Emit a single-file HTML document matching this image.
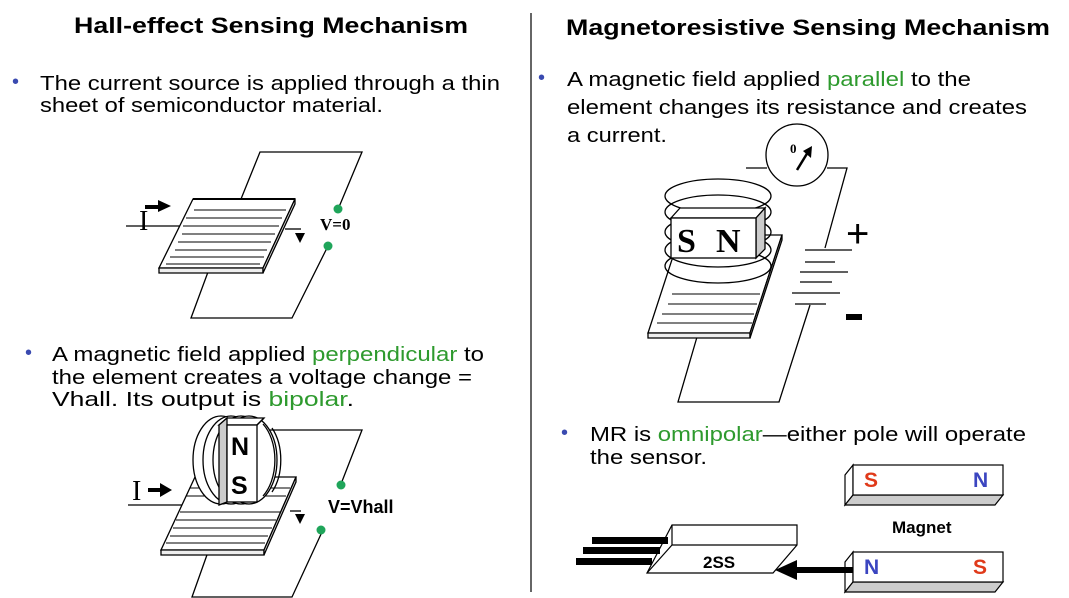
<!DOCTYPE html>
<html><head><meta charset="utf-8"><style>
html,body{margin:0;padding:0;background:#fff;width:1069px;height:598px;overflow:hidden}
</style></head><body>
<svg width="1069" height="598" viewBox="0 0 1069 598" xmlns="http://www.w3.org/2000/svg" font-family="Liberation Sans, Arial, sans-serif">
<rect width="1069" height="598" fill="#fff"/>
<line x1="531" y1="13" x2="531" y2="592" stroke="#000" stroke-width="1.2"/>
<text x="74" y="33" font-size="22" font-weight="bold" textLength="394" lengthAdjust="spacingAndGlyphs">Hall-effect Sensing Mechanism</text>
<text x="566" y="35" font-size="22" font-weight="bold" textLength="484" lengthAdjust="spacingAndGlyphs">Magnetoresistive Sensing Mechanism</text>
<g font-size="20.5" fill="#000">
<text x="12" y="88" fill="#3a4ab0" font-size="20">•</text>
<text x="40" y="90" textLength="460" lengthAdjust="spacingAndGlyphs">The current source is applied through a thin</text>
<text x="40" y="112" textLength="343" lengthAdjust="spacingAndGlyphs">sheet of semiconductor material.</text>
<text x="25" y="359" fill="#3a4ab0" font-size="20">•</text>
<text x="52" y="361" textLength="432" lengthAdjust="spacingAndGlyphs">A magnetic field applied <tspan fill="#2e9a2e">perpendicular</tspan> to</text>
<text x="52" y="384" textLength="420" lengthAdjust="spacingAndGlyphs">the element creates a voltage change =</text>
<text x="52" y="406" textLength="302" lengthAdjust="spacingAndGlyphs">Vhall. Its output is <tspan fill="#2e9a2e">bipolar</tspan>.</text>
<text x="538" y="84" fill="#3a4ab0" font-size="20">•</text>
<text x="567" y="86" textLength="404" lengthAdjust="spacingAndGlyphs">A magnetic field applied <tspan fill="#2e9a2e">parallel</tspan> to the</text>
<text x="567" y="114" textLength="460" lengthAdjust="spacingAndGlyphs">element changes its resistance and creates</text>
<text x="567" y="142" textLength="100" lengthAdjust="spacingAndGlyphs">a current.</text>
<text x="561" y="439" fill="#3a4ab0" font-size="20">•</text>
<text x="590" y="441" textLength="436" lengthAdjust="spacingAndGlyphs">MR is <tspan fill="#2e9a2e">omnipolar</tspan>—either pole will operate</text>
<text x="590" y="464" textLength="117" lengthAdjust="spacingAndGlyphs">the sensor.</text>
</g>

<!-- Diagram 1 -->
<g stroke="#000" stroke-width="1.3" fill="none">
<polyline points="241,199 260,152 362,152 339,207"/>
<polyline points="208,272 191,318 292,318 327,248"/>
<line x1="126" y1="226" x2="185" y2="226"/>
<line x1="285" y1="229" x2="301" y2="229"/>
<polygon points="193,199 295,199 263,268 159,268" fill="#fff"/>
<polygon points="159,268 263,268 263,273 159,273" fill="#eee"/>
<polygon points="295,199 295,204 263,273 263,268" fill="#ddd"/>
<line x1="193" y1="199" x2="295" y2="199" stroke-width="2"/>
<g stroke-width="1">
<line x1="194" y1="210" x2="286" y2="210"/><line x1="186" y1="218" x2="282" y2="218"/>
<line x1="183" y1="226" x2="279" y2="226"/><line x1="182" y1="234" x2="275" y2="234"/>
<line x1="178" y1="242" x2="271" y2="242"/><line x1="175" y1="250" x2="267" y2="250"/>
<line x1="170" y1="257" x2="264" y2="257"/><line x1="166" y1="264" x2="260" y2="264"/>
</g>
</g>
<text x="139" y="230" font-family="Liberation Serif, serif" font-size="28">I</text>
<polygon points="145,205 158,205 158,200 171,206 158,212 158,209 145,209" fill="#000"/>
<polygon points="295,233 305,233 300,243" fill="#000"/>
<circle cx="338" cy="209" r="4.5" fill="#1fa55a"/>
<circle cx="328" cy="246" r="4.5" fill="#1fa55a"/>
<text x="320" y="230" font-family="Liberation Serif, serif" font-size="17" font-weight="bold">V=0</text>

<!-- Diagram 2 -->
<g stroke="#000" stroke-width="1.3" fill="none">
<polyline points="268,430 362,430 341,484"/>
<polyline points="208,552 192,597 292,597 322,532"/>
<line x1="128" y1="505" x2="185" y2="505"/>
<line x1="290" y1="511" x2="301" y2="511"/>
<polygon points="195,477 296,477 264,550 161,550" fill="#fff"/>
<polygon points="161,550 264,550 264,555 161,555" fill="#eee"/>
<polygon points="296,477 296,482 264,555 264,550" fill="#ddd"/>
<g stroke-width="1">
<line x1="190" y1="488" x2="290" y2="488"/><line x1="186" y1="496" x2="286" y2="496"/>
<line x1="180" y1="512" x2="280" y2="512"/><line x1="176" y1="520" x2="276" y2="520"/>
<line x1="173" y1="528" x2="272" y2="528"/><line x1="170" y1="536" x2="268" y2="536"/>
<line x1="166" y1="543" x2="265" y2="543"/>
</g>
<ellipse cx="221" cy="460" rx="28" ry="44" fill="#fff"/>
<ellipse cx="231" cy="460" rx="28" ry="44" fill="#fff"/>
<ellipse cx="241" cy="460" rx="28" ry="44" fill="#fff"/>
<ellipse cx="249" cy="460" rx="28" ry="44" fill="#fff"/>
<polygon points="219,425 227,418 264,418 257,425" fill="#fff"/>
<polygon points="219,425 227,418 227,502 219,505" fill="#ccc"/>
<rect x="227" y="425" width="30" height="77" fill="#fff"/>
<path d="M257,425 L264,418"/>
<path d="M263,424 A28,44 0 0 1 263,496"/>
<path d="M272,428 A28,44 0 0 1 272,492"/>
</g>
<text x="231" y="455" font-size="25" font-weight="bold">N</text>
<text x="231" y="494" font-size="25" font-weight="bold">S</text>
<text x="132" y="500" font-family="Liberation Serif, serif" font-size="28">I</text>
<polygon points="148,488 160,488 160,483 172,490 160,497 160,492 148,492" fill="#000"/>
<polygon points="295,514 305,514 300,524" fill="#000"/>
<circle cx="341" cy="485" r="4.5" fill="#1fa55a"/>
<circle cx="321" cy="530" r="4.5" fill="#1fa55a"/>
<text x="328" y="513" font-size="18" font-weight="bold">V=Vhall</text>

<!-- Diagram 3 -->
<g stroke="#000" stroke-width="1.3" fill="none">
<polyline points="746,168 767,168"/>
<polyline points="827,168 847,168 825,248"/>
<polyline points="810,305 779,402 678,402 697,337"/>
<polygon points="680,235 782,235 750,333 648,333" fill="#fff"/>
<polygon points="648,333 750,333 750,338 648,338" fill="#eee"/>
<polygon points="782,235 782,240 750,338 750,333" fill="#ddd"/>
<g stroke-width="1">
<line x1="672" y1="294" x2="760" y2="294"/><line x1="668" y1="304" x2="757" y2="304"/>
<line x1="662" y1="314" x2="754" y2="314"/><line x1="657" y1="323" x2="752" y2="323"/>
</g>
<ellipse cx="718" cy="196" rx="53" ry="17"/>
<ellipse cx="718" cy="212" rx="53" ry="17"/>
<ellipse cx="718" cy="232" rx="53" ry="17"/>
<ellipse cx="718" cy="250" rx="53" ry="17"/>
<ellipse cx="718" cy="266" rx="53" ry="17"/>
<polygon points="671,218 680,208 765,208 756,218" fill="#fff"/>
<polygon points="756,218 765,208 765,249 756,258" fill="#ccc"/>
<rect x="671" y="218" width="85" height="40" fill="#fff"/>
<circle cx="797" cy="155" r="31" fill="#fff"/>
<g stroke-width="1.2">
<line x1="805" y1="250" x2="852" y2="250"/><line x1="805" y1="262" x2="835" y2="262"/>
<line x1="800" y1="272" x2="848" y2="272"/><line x1="800" y1="282" x2="832" y2="282"/>
<line x1="792" y1="293" x2="840" y2="293"/><line x1="795" y1="304" x2="826" y2="304"/>
</g>
</g>
<line x1="797" y1="170" x2="808" y2="152" stroke="#000" stroke-width="2.5"/>
<polygon points="803,151 812,146 811,158" fill="#000"/>
<text x="790" y="153" font-family="Liberation Serif, serif" font-size="13" font-weight="bold">0</text>
<text x="677" y="252" font-family="Liberation Serif, serif" font-size="34" font-weight="bold">S</text>
<text x="716" y="252" font-family="Liberation Serif, serif" font-size="34" font-weight="bold">N</text>
<text x="846" y="247" font-size="40">+</text>
<rect x="846" y="314" width="16" height="6" fill="#000"/>

<!-- Diagram 4 -->
<g stroke="#000" stroke-width="1.2">
<polygon points="853,465 845,475 845,505 853,495" fill="#fff"/>
<polygon points="853,495 1003,495 995,505 845,505" fill="#ccc"/>
<rect x="853" y="465" width="150" height="30" fill="#fff"/>
<polygon points="853,552 845,562 845,592 853,582" fill="#fff"/>
<polygon points="853,582 1003,582 995,592 845,592" fill="#ccc"/>
<rect x="853" y="552" width="150" height="30" fill="#fff"/>
<polygon points="672,525 797,525 797,545 773,573 647,573" fill="#fff"/>
<line x1="672" y1="545" x2="797" y2="545"/>
<line x1="672" y1="525" x2="672" y2="545"/>
<line x1="672" y1="545" x2="647" y2="573"/>
</g>
<text x="864" y="487" font-size="21" font-weight="bold" fill="#e03a1a">S</text>
<text x="973" y="487" font-size="21" font-weight="bold" fill="#3b45c0">N</text>
<text x="864" y="574" font-size="21" font-weight="bold" fill="#3b45c0">N</text>
<text x="973" y="574" font-size="21" font-weight="bold" fill="#e03a1a">S</text>
<text x="892" y="533" font-size="17" font-weight="bold">Magnet</text>
<text x="703" y="568" font-size="17" font-weight="bold">2SS</text>
<rect x="592" y="537" width="76" height="7" fill="#000"/>
<rect x="583" y="547" width="77" height="7" fill="#000"/>
<rect x="576" y="558" width="76" height="7" fill="#000"/>
<rect x="795" y="567" width="58" height="6" fill="#000"/>
<polygon points="775,570 797,560 797,580" fill="#000"/>
</svg>
</body></html>
